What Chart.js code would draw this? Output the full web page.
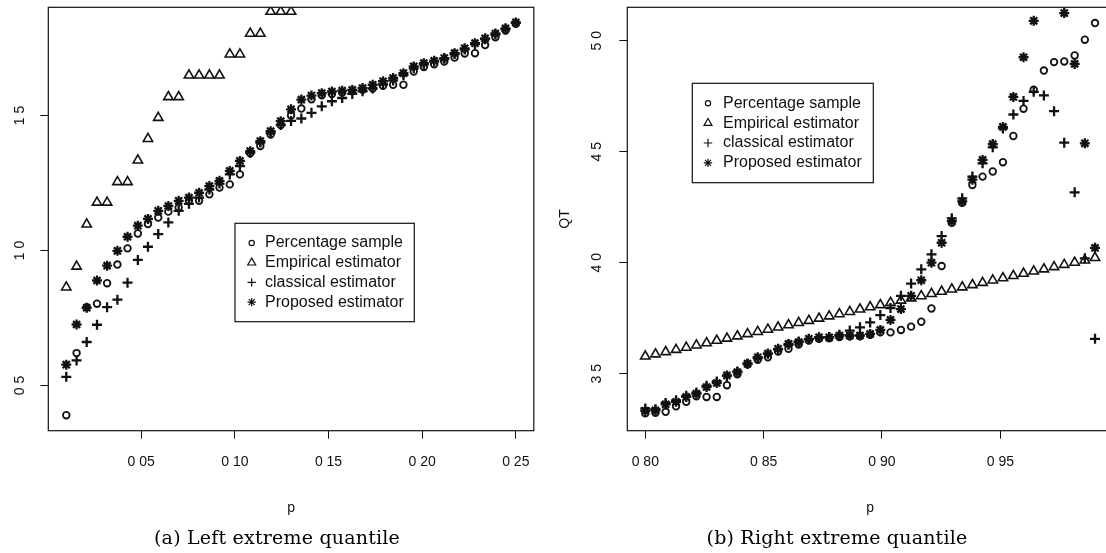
<!DOCTYPE html>
<html>
<head>
<meta charset="utf-8">
<script src="https://cdn.jsdelivr.net/npm/chart.js@4"></script>
<style>
	body { margin: 0; width: 1106px; height: 553px; overflow: hidden; background: #fff; position: relative; }
	canvas { position: absolute; top: 0; }
	.caption { position: absolute; top: 526px; font-family: "DejaVu Serif", serif; font-size: 19px; letter-spacing: 0.2px; color: #000; transform: translateX(-50%); white-space: nowrap; }
</style>
</head>
<body>
<canvas id="left-chart" width="553" height="553" style="left:0"></canvas>
<canvas id="right-chart" width="600" height="553" style="left:553px"></canvas>
<div class="caption" style="left:277px">(a) Left extreme quantile</div>
<div class="caption" style="left:837px">(b) Right extreme quantile</div>
<script>
// Series names (same order in both panels)
const seriesLabels = ["Percentage sample", "Empirical estimator", "classical estimator", "Proposed estimator"];

// Left panel: p from 0.01 to 0.25
const leftP = [0.0100, 0.0155, 0.0209, 0.0264, 0.0318, 0.0373, 0.0427, 0.0482, 0.0536, 0.0591, 0.0645, 0.0700, 0.0755, 0.0809, 0.0864, 0.0918, 0.0973, 0.1027, 0.1082, 0.1136, 0.1191, 0.1245, 0.1300, 0.1355, 0.1409, 0.1464, 0.1518, 0.1573, 0.1627, 0.1682, 0.1736, 0.1791, 0.1845, 0.1900, 0.1955, 0.2009, 0.2064, 0.2118, 0.2173, 0.2227, 0.2282, 0.2336, 0.2391, 0.2445, 0.2500];
const leftPercentage = [0.390, 0.620, 0.790, 0.803, 0.879, 0.948, 1.008, 1.063, 1.098, 1.122, 1.144, 1.159, 1.184, 1.184, 1.208, 1.233, 1.245, 1.282, 1.360, 1.387, 1.430, 1.465, 1.500, 1.526, 1.560, 1.575, 1.580, 1.585, 1.590, 1.595, 1.600, 1.610, 1.614, 1.614, 1.663, 1.680, 1.690, 1.700, 1.715, 1.730, 1.731, 1.761, 1.790, 1.815, 1.840];
const leftEmpirical = [0.864, 0.941, 1.097, 1.178, 1.178, 1.254, 1.254, 1.334, 1.414, 1.492, 1.569, 1.569, 1.649, 1.649, 1.649, 1.649, 1.727, 1.727, 1.804, 1.804, 1.885, 1.885, 1.885, null, null, null, null, null, null, null, null, null, null, null, null, null, null, null, null, null, null, null, null, null, null];
const leftClassical = [0.532, 0.593, 0.661, 0.725, 0.790, 0.818, 0.881, 0.965, 1.014, 1.061, 1.104, 1.147, 1.173, 1.196, 1.226, 1.248, 1.282, 1.313, 1.362, 1.400, 1.435, 1.465, 1.480, 1.489, 1.510, 1.534, 1.553, 1.565, 1.580, 1.590, 1.600, 1.615, 1.630, 1.650, 1.675, 1.690, 1.700, 1.710, 1.728, 1.745, 1.765, 1.783, 1.800, 1.820, 1.843];
const leftProposed = [0.577, 0.726, 0.788, 0.889, 0.944, 0.999, 1.051, 1.092, 1.117, 1.147, 1.165, 1.184, 1.196, 1.214, 1.239, 1.258, 1.295, 1.332, 1.368, 1.405, 1.442, 1.479, 1.523, 1.559, 1.574, 1.583, 1.589, 1.592, 1.595, 1.602, 1.614, 1.627, 1.639, 1.657, 1.682, 1.694, 1.703, 1.713, 1.731, 1.749, 1.768, 1.786, 1.804, 1.823, 1.845];
const leftXTicks = [0.05, 0.10, 0.15, 0.20, 0.25];
const leftXLabels = ["0 05", "0 10", "0 15", "0 20", "0 25"];
const leftYTicks = [0.5, 1.0, 1.5];
const leftYLabels = ["0 5", "1 0", "1 5"];

// Right panel: p from 0.80 to 0.99
const rightP = [0.8000, 0.8043, 0.8086, 0.8130, 0.8173, 0.8216, 0.8259, 0.8302, 0.8345, 0.8389, 0.8432, 0.8475, 0.8518, 0.8561, 0.8605, 0.8648, 0.8691, 0.8734, 0.8777, 0.8820, 0.8864, 0.8907, 0.8950, 0.8993, 0.9036, 0.9080, 0.9123, 0.9166, 0.9209, 0.9252, 0.9295, 0.9339, 0.9382, 0.9425, 0.9468, 0.9511, 0.9555, 0.9598, 0.9641, 0.9684, 0.9727, 0.9770, 0.9814, 0.9857, 0.9900];
const rightPercentage = [3.321, 3.324, 3.328, 3.353, 3.373, 3.398, 3.395, 3.395, 3.448, 3.497, 3.542, 3.563, 3.574, 3.600, 3.612, 3.631, 3.649, 3.657, 3.660, 3.665, 3.668, 3.670, 3.675, 3.686, 3.686, 3.697, 3.712, 3.734, 3.794, 3.985, 4.180, 4.270, 4.350, 4.388, 4.411, 4.453, 4.571, 4.694, 4.780, 4.866, 4.904, 4.907, 4.934, 5.005, 5.080];
const rightEmpirical = [3.578, 3.588, 3.598, 3.608, 3.618, 3.628, 3.638, 3.649, 3.659, 3.669, 3.679, 3.689, 3.699, 3.709, 3.719, 3.729, 3.739, 3.749, 3.759, 3.769, 3.779, 3.790, 3.800, 3.810, 3.820, 3.830, 3.840, 3.850, 3.860, 3.870, 3.880, 3.890, 3.900, 3.910, 3.921, 3.931, 3.941, 3.951, 3.961, 3.971, 3.981, 3.991, 4.001, 4.011, 4.022];
const rightClassical = [3.343, 3.340, 3.368, 3.380, 3.400, 3.415, 3.445, 3.465, 3.490, 3.510, 3.545, 3.570, 3.590, 3.610, 3.630, 3.645, 3.655, 3.662, 3.665, 3.675, 3.694, 3.709, 3.731, 3.764, 3.796, 3.851, 3.906, 3.970, 4.038, 4.120, 4.200, 4.290, 4.388, 4.448, 4.520, 4.605, 4.668, 4.729, 4.770, 4.754, 4.683, 4.541, 4.317, 4.020, 3.657];
const rightProposed = [3.332, 3.335, 3.362, 3.373, 3.395, 3.410, 3.440, 3.458, 3.492, 3.507, 3.545, 3.574, 3.590, 3.612, 3.634, 3.642, 3.657, 3.664, 3.664, 3.672, 3.672, 3.672, 3.679, 3.697, 3.742, 3.791, 3.851, 3.921, 4.000, 4.090, 4.187, 4.276, 4.374, 4.463, 4.535, 4.612, 4.747, 4.926, 5.090, null, null, 5.125, 4.896, 4.538, 4.067];
const rightXTicks = [0.80, 0.85, 0.90, 0.95];
const rightXLabels = ["0 80", "0 85", "0 90", "0 95"];
const rightYTicks = [3.5, 4.0, 4.5, 5.0];
const rightYLabels = ["3 5", "4 0", "4 5", "5 0"];

// Marker look, per series
const pointStyles = ["circle", "triangle", "cross", "star"];
const pointSizes = [3.3, 5.4, 5, 5];
const pointWidths = [1.8, 1.6, 2.3, 2.3];
const legendSizes = [2.6, 4.6, 4.2, 4.2];

const ink = "#111";
const sansFont = "'Liberation Sans', Arial, sans-serif";

// Box around the plot region
const plotBox = {
	id: "plotBox",
	afterDatasetsDraw(chart) {
		const { ctx, chartArea: a } = chart;
		ctx.save();
		ctx.strokeStyle = ink;
		ctx.lineWidth = 1.2;
		ctx.strokeRect(a.left, a.top, a.right - a.left, a.bottom - a.top);
		ctx.restore();
	},
};

// Legend drawn inside the plot, R style
const legendBox = {
	id: "legendBox",
	afterDatasetsDraw(chart, args, opts) {
		const ctx = chart.ctx;
		ctx.save();
		ctx.fillStyle = "#fff";
		ctx.fillRect(opts.x, opts.y, opts.w, opts.h);
		ctx.strokeStyle = ink;
		ctx.lineWidth = 1.2;
		ctx.strokeRect(opts.x, opts.y, opts.w, opts.h);
		chart.data.datasets.forEach((ds, i) => {
			const cy = opts.y + opts.step * (i + 1);
			ctx.fillStyle = "rgba(0,0,0,0)";
			ctx.strokeStyle = ink;
			Chart.helpers.drawPoint(ctx, { pointStyle: ds.pointStyle, radius: legendSizes[i], borderWidth: 1.1, rotation: 0 }, opts.x + opts.symX, cy);
			ctx.fillStyle = ink;
			ctx.font = `16px ${sansFont}`;
			ctx.textBaseline = "middle";
			ctx.textAlign = "left";
			ctx.fillText(ds.label, opts.x + opts.textX, cy);
		});
		ctx.restore();
	},
};

const makeDatasets = (p, series) =>
	series.map((vals, i) => ({
		label: seriesLabels[i],
		data: p.map((x, j) => ({ x, y: vals[j] })),
		showLine: false,
		pointStyle: pointStyles[i],
		pointRadius: pointSizes[i],
		pointBorderWidth: pointWidths[i],
		borderColor: ink,
		backgroundColor: "rgba(0,0,0,0)",
	}));

const tickGrid = { display: true, drawOnChartArea: false, drawTicks: true, tickLength: 8, color: ink, lineWidth: 1 };

// Keep the plot area fixed: no extra room for overhanging labels
const noOverhang = (s) => {
	s.paddingTop = 0;
	s.paddingBottom = 0;
	s.paddingLeft = 0;
	s.paddingRight = 0;
};

const buildChart = (id, cfg) =>
	new Chart(document.getElementById(id), {
		type: "scatter",
		data: { datasets: makeDatasets(cfg.p, cfg.series) },
		options: {
			responsive: false,
			animation: false,
			devicePixelRatio: 1,
			layout: { padding: { top: 5.3, right: cfg.padRight, left: 0, bottom: 0 } },
			plugins: {
				legend: { display: false },
				tooltip: { enabled: false },
				legendBox: cfg.legend,
			},
			scales: {
				x: {
					type: "linear",
					min: cfg.xMin,
					max: cfg.xMax,
					afterBuildTicks: (s) => { s.ticks = cfg.xTicks.map((v) => ({ value: v })); },
					afterFit: (s) => { s.height = 122.3; noOverhang(s); },
					grid: tickGrid,
					border: { display: false },
					ticks: {
						autoSkip: false,
						maxRotation: 0,
						padding: 15,
						color: ink,
						font: { family: sansFont, size: 14 },
						callback: (v, i) => cfg.xLabels[i],
					},
					title: { display: true, text: "p", color: ink, font: { family: sansFont, size: 14 }, padding: { top: 0, bottom: 36 } },
				},
				y: {
					min: cfg.yMin,
					max: cfg.yMax,
					afterBuildTicks: (s) => { s.ticks = cfg.yTicks.map((v) => ({ value: v })); },
					afterFit: (s) => { s.width = cfg.yWidth; noOverhang(s); },
					grid: tickGrid,
					border: { display: false },
					ticks: {
						minRotation: 90,
						maxRotation: 90,
						crossAlign: "center",
						padding: cfg.yPad,
						color: ink,
						font: { family: sansFont, size: 14 },
						callback: (v, i) => cfg.yLabels[i],
					},
					title: { display: !!cfg.yTitle, text: cfg.yTitle || "", color: ink, font: { family: sansFont, size: 14 }, padding: { top: 4, bottom: 0 } },
				},
			},
		},
		plugins: [plotBox, legendBox],
	});

buildChart("left-chart", {
	p: leftP,
	series: [leftPercentage, leftEmpirical, leftClassical, leftProposed],
	xMin: 0.0004, xMax: 0.2596, yMin: 0.3325, yMax: 1.901,
	xTicks: leftXTicks, xLabels: leftXLabels, yTicks: leftYTicks, yLabels: leftYLabels,
	yWidth: 48.3, yPad: 10, padRight: 19.2,
	legend: { x: 235, y: 223.3, w: 179.3, h: 98.4, step: 19.7, symX: 16.7, textX: 30 },
});

// Plot box runs past the right edge of the page, as in the source figure
buildChart("right-chart", {
	p: rightP,
	series: [rightPercentage, rightEmpirical, rightClassical, rightProposed],
	xMin: 0.7924, xMax: 0.9976, yMin: 3.243, yMax: 5.151,
	xTicks: rightXTicks, xLabels: rightXLabels, yTicks: rightYTicks, yLabels: rightYLabels,
	yWidth: 74.3, yPad: 12.5, padRight: 40, yTitle: "QT",
	legend: { x: 139.3, y: 83.3, w: 181, h: 99.4, step: 19.9, symX: 15.7, textX: 30.7 },
});
</script>
</body>
</html>
